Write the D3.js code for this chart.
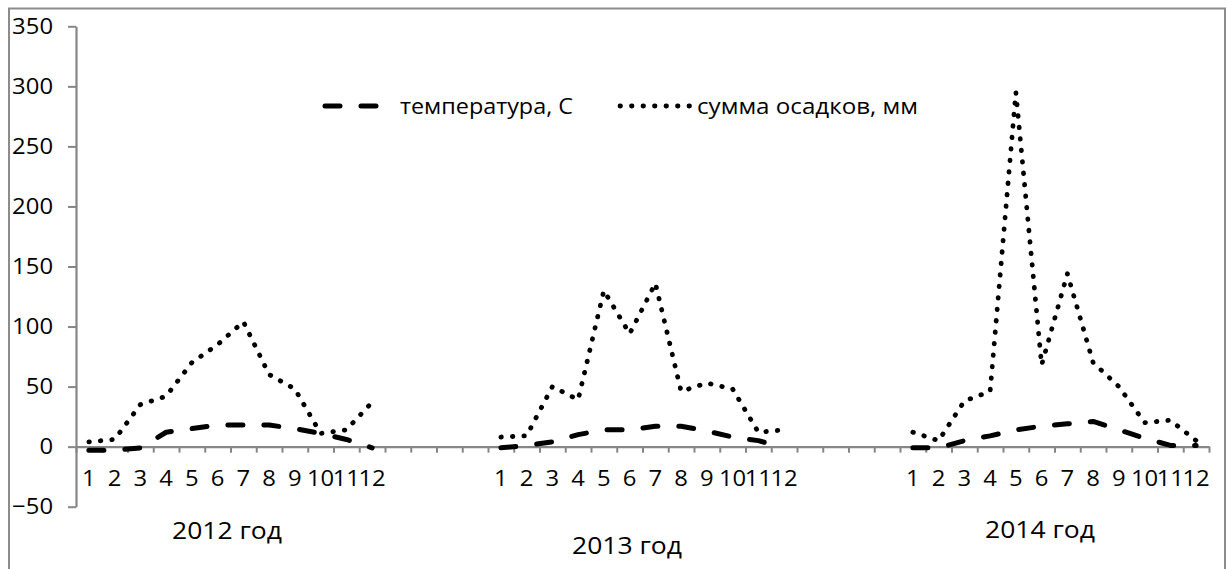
<!DOCTYPE html>
<html>
<head>
<meta charset="utf-8">
<script src="https://cdn.jsdelivr.net/npm/d3@7"></script>
<style>
  html, body { margin: 0; padding: 0; background: #fff; }
  svg { display: block; }
  text { font-family: "Open Sans", "Noto Sans", sans-serif; fill: #000; }
  .wide-end { transform-box: fill-box; transform-origin: 100% 50%; transform: scaleX(1.06); }
  .wide-mid { transform-box: fill-box; transform-origin: 50% 50%; transform: scaleX(1.06); }
</style>
</head>
<body>
<svg id="chart" width="1227" height="569"></svg>
<script>
// Monthly climate data, three years, months 1..12
const monthLabels = ["1","2","3","4","5","6","7","8","9","10","11","12"];
const yearLabels = ["2012 год", "2013 год", "2014 год"];

const temp2012 = [-3, -3, -1, 12, 15, 18, 18, 18, 15, 11, 6, -1];
const temp2013 = [-1, 1, 4, 10, 14, 14, 17, 17, 13, 8, 5, -1];
const temp2014 = [-1, -1, 5, 9, 14, 17, 19, 21, 14, 7, 1, 1];

const precip2012 = [4, 6, 35, 42, 70, 85, 104, 60, 48, 11, 14, 37];
const precip2013 = [8, 9, 50, 39, 130, 94, 136, 46, 53, 48, 12, 14];
const precip2014 = [12, 5, 38, 46, 295, 68, 144, 70, 50, 20, 22, 5];

const seriesNames = ["температура, С", "сумма осадков, мм"];
const yTicks = [-50, 0, 50, 100, 150, 200, 250, 300, 350];

// four empty category slots separate the years
const gapSlots = 4;

// Build the category table: month slots for each year plus blank slots between years
const slots = [];
const tempYears = [temp2012, temp2013, temp2014];
const precipYears = [precip2012, precip2013, precip2014];
yearLabels.forEach((yl, yi) => {
  monthLabels.forEach((m, mi) => {
    slots.push({ label: m, year: yi, temp: tempYears[yi][mi], precip: precipYears[yi][mi] });
  });
  if (yi < yearLabels.length - 1) {
    for (let g = 0; g < gapSlots; g++) slots.push({ label: "", year: yi, temp: null, precip: null });
  }
});
slots.forEach((d, i) => d.idx = i);

const svg = d3.select("#chart");

// Chart frame
svg.append("rect")
  .attr("x", 9).attr("y", 8.5)
  .attr("width", 1216).attr("height", 575)
  .attr("fill", "none").attr("stroke", "#8c8c8c").attr("stroke-width", 2);

const plot = { left: 76, right: 1209, top: 26.3, bottom: 506.7 };

const x = d3.scaleBand()
  .domain(slots.map(d => d.idx))
  .range([plot.left, plot.right])
  .paddingInner(0).paddingOuter(0);

const xEdge = d3.scaleLinear().domain([0, slots.length]).range([plot.left, plot.right]);

const y = d3.scaleLinear().domain([-50, 350]).range([plot.bottom, plot.top]);

const axisColor = "#868686";

// Y axis
const yAxis = svg.append("g")
  .attr("transform", `translate(${plot.left},0)`)
  .call(d3.axisLeft(y).tickValues(yTicks).tickSize(8).tickSizeOuter(0).tickPadding(15));
yAxis.select(".domain").attr("stroke", axisColor).attr("stroke-width", 2.2);
yAxis.selectAll(".tick line").attr("stroke", axisColor).attr("stroke-width", 2);
yAxis.selectAll(".tick text")
  .attr("class", "wide-end")
  .attr("font-size", 22.5)
  .style("font-family", "'Open Sans', sans-serif")
  .attr("fill", "#000");

// X axis: tick marks sit on category boundaries
const xTickAxis = svg.append("g")
  .attr("transform", `translate(0,${y(0)})`)
  .call(d3.axisBottom(xEdge).tickValues(d3.range(0, slots.length + 1)).tickSize(6).tickSizeOuter(0).tickFormat(""));
xTickAxis.select(".domain").attr("stroke", axisColor).attr("stroke-width", 2.2);
xTickAxis.selectAll(".tick line").attr("stroke", axisColor).attr("stroke-width", 2);

// X axis: month labels centred in their category
const xLabelAxis = svg.append("g")
  .attr("transform", `translate(0,${y(0)})`)
  .call(d3.axisBottom(x).tickSize(0).tickPadding(23).tickFormat(i => slots[i].label));
xLabelAxis.select(".domain").remove();
xLabelAxis.selectAll(".tick text")
  .attr("class", "wide-mid")
  .attr("font-size", 22.5)
  .style("font-family", "'Open Sans', sans-serif")
  .attr("fill", "#000");

// Year captions under each group of months
const yearPos = [
  { cx: 227, cy: 539 },
  { cx: 627, cy: 554 },
  { cx: 1040, cy: 538 }
];
svg.append("g").selectAll("text")
  .data(yearLabels)
  .join("text")
  .attr("x", (d, i) => yearPos[i].cx - 55)
  .attr("y", (d, i) => yearPos[i].cy)
  .attr("font-size", 24)
  .attr("textLength", 110)
  .attr("lengthAdjust", "spacingAndGlyphs")
  .text(d => d);

// Series lines (broken between years)
const tempLine = d3.line()
  .defined(d => d.temp !== null)
  .x(d => x(d.idx) + x.bandwidth() / 2)
  .y(d => y(d.temp));

const precipLine = d3.line()
  .defined(d => d.precip !== null)
  .x(d => x(d.idx) + x.bandwidth() / 2)
  .y(d => y(d.precip));

const tempStyle = { width: 5, dash: "15,21", cap: "round" };
const precipStyle = { width: 4.8, dash: "0.5,11", cap: "round" };

svg.append("path")
  .datum(slots)
  .attr("d", precipLine)
  .attr("fill", "none").attr("stroke", "#000")
  .attr("stroke-width", precipStyle.width)
  .attr("stroke-dasharray", precipStyle.dash)
  .attr("stroke-linecap", precipStyle.cap)
  .attr("stroke-linejoin", "round");

svg.append("path")
  .datum(slots)
  .attr("d", tempLine)
  .attr("fill", "none").attr("stroke", "#000")
  .attr("stroke-width", tempStyle.width)
  .attr("stroke-dasharray", tempStyle.dash)
  .attr("stroke-linecap", tempStyle.cap)
  .attr("stroke-linejoin", "round");

// Legend
const legendY = 106;
const legend = svg.append("g");
legend.append("line")
  .attr("x1", 325).attr("x2", 382).attr("y1", legendY).attr("y2", legendY)
  .attr("stroke", "#000").attr("stroke-width", tempStyle.width)
  .attr("stroke-dasharray", tempStyle.dash).attr("stroke-linecap", tempStyle.cap);
legend.append("text")
  .attr("x", 400).attr("y", legendY).attr("dy", "0.35em")
  .attr("font-size", 22.5)
  .attr("textLength", 173)
  .attr("lengthAdjust", "spacingAndGlyphs")
  .text(seriesNames[0]);
legend.append("line")
  .attr("x1", 620).attr("x2", 689.5).attr("y1", legendY).attr("y2", legendY)
  .attr("stroke", "#000").attr("stroke-width", precipStyle.width)
  .attr("stroke-dasharray", precipStyle.dash).attr("stroke-linecap", precipStyle.cap);
legend.append("text")
  .attr("x", 697).attr("y", legendY).attr("dy", "0.35em")
  .attr("font-size", 22.5)
  .attr("textLength", 221)
  .attr("lengthAdjust", "spacingAndGlyphs")
  .text(seriesNames[1]);
</script>
</body>
</html>
